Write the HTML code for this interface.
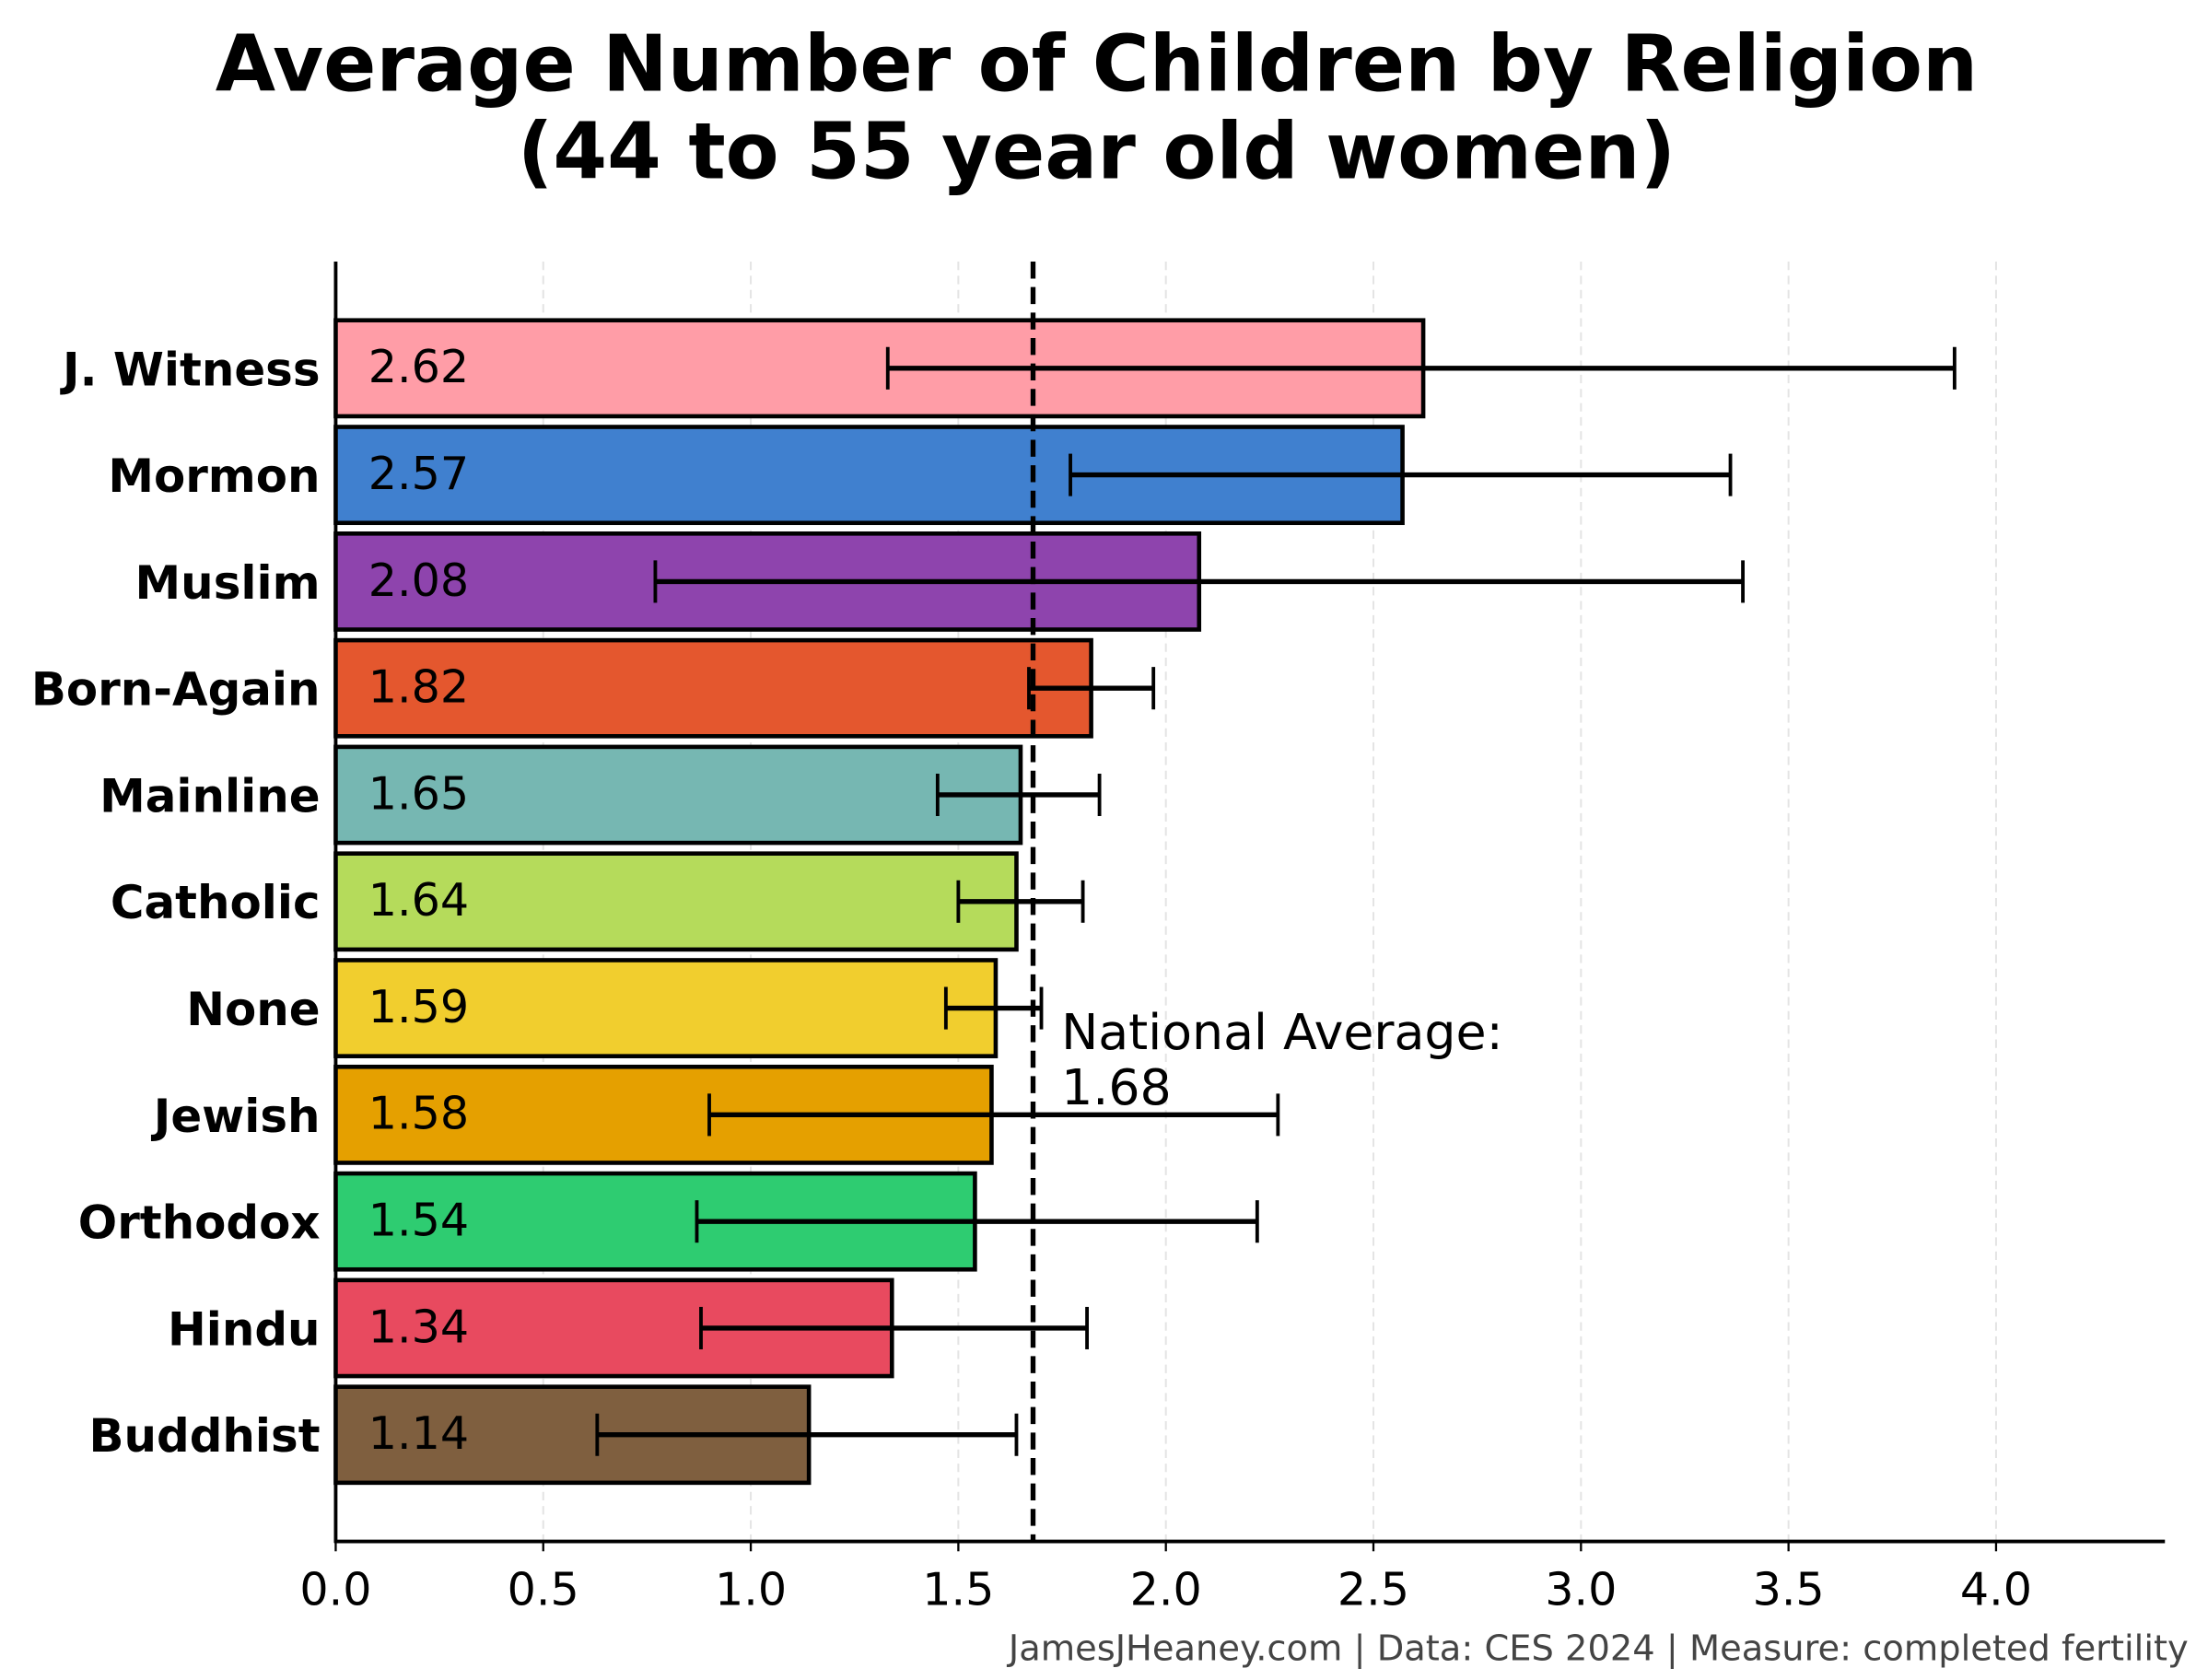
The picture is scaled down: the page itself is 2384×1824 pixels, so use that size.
<!DOCTYPE html>
<html><head><meta charset="utf-8"><style>
html,body{margin:0;padding:0;background:#fff;}
svg{display:block;font-family:"DejaVu Sans","Liberation Sans",sans-serif;}
</style></head><body>
<svg id="chart" width="2384" height="1824" viewBox="0 0 1552 1188" xmlns="http://www.w3.org/2000/svg">
<rect width="1552" height="1188" fill="#fff"/>
<text x="775" y="64" text-anchor="middle" font-size="55" font-weight="bold">Average Number of Children by Religion</text>
<text x="775" y="126" text-anchor="middle" font-size="55" font-weight="bold">(44 to 55 year old women)</text>
<g id="grid"></g>
<g id="bars"></g>
<g id="axes"></g>
<text x="750" y="742" font-size="35">National Average:</text>
<text x="750" y="781" font-size="35">1.68</text>
<text x="1547" y="1174" text-anchor="end" font-size="25" fill="#444">JamesJHeaney.com | Data: CES 2024 | Measure: completed fertility</text>
</svg>
<script>
const categories = ["J. Witness","Mormon","Muslim","Born-Again","Mainline","Catholic","None","Jewish","Orthodox","Hindu","Buddhist"];
const values = [2.62,2.57,2.08,1.82,1.65,1.64,1.59,1.58,1.54,1.34,1.14];
const errLow = [1.33,1.77,0.77,1.67,1.45,1.50,1.47,0.90,0.87,0.88,0.63];
const errHigh = [3.90,3.36,3.39,1.97,1.84,1.80,1.70,2.27,2.22,1.81,1.64];
const colors = ["#FF9DA7","#4080CF","#8E44AD","#E4572E","#76B7B2","#B5DB5B","#F1CE2E","#E5A000","#2ECC71","#E84A5F","#7F5F3F"];
const xTicks = [0,0.5,1.0,1.5,2.0,2.5,3.0,3.5,4.0];
const nationalAvg = [1.68];

const NS="http://www.w3.org/2000/svg";
const X0=237, XS=293.5, XMAX=4.4, YTOP=185, YBOT=1090;
const step=(YBOT-YTOP)/(categories.length+1);
const x=v=>X0+v*XS;
const y=i=>YTOP+(i+1)*step;
function mk(tag,attrs,parent){const e=document.createElementNS(NS,tag);for(const k in attrs)e.setAttribute(k,attrs[k]);parent.appendChild(e);return e;}
const grid=document.getElementById('grid'),bars=document.getElementById('bars'),axes=document.getElementById('axes');
xTicks.forEach(t=>{if(t===0)return;
 const g=mk('line',{x1:x(t),x2:x(t),y1:YTOP,y2:YBOT,stroke:'#e4e4e4','stroke-width':1.3,'stroke-dasharray':'6,4'},grid);
 
 
});
const bh=step*0.9;
categories.forEach((c,i)=>{
 const r=mk('rect',{x:x(0),y:y(i)-bh/2,width:x(values[i])-x(0),height:bh,fill:colors[i],stroke:'#000','stroke-width':3},bars);
 
 
 const v=mk('text',{x:260,y:y(i)+10,'font-size':32},bars);v.textContent=values[i].toFixed(2);
 
 
 const l=mk('text',{x:226,y:y(i)+12,'font-size':32.5,'font-weight':'bold','text-anchor':'end'},axes);l.textContent=c;
 
 
});
const al=mk('line',{x1:x(nationalAvg[0]),x2:x(nationalAvg[0]),y1:YTOP,y2:YBOT,stroke:'#000','stroke-width':3.5,'stroke-dasharray':'12,6'},bars);


categories.forEach((c,i)=>{
 const g=mk('g',{stroke:'#000','stroke-width':3.5},bars);
 
 
 mk('line',{x1:x(errLow[i]),x2:x(errHigh[i]),y1:y(i),y2:y(i)},g);
 mk('line',{x1:x(errLow[i]),x2:x(errLow[i]),y1:y(i)-15,y2:y(i)+15,'stroke-width':2.5},g);
 mk('line',{x1:x(errHigh[i]),x2:x(errHigh[i]),y1:y(i)-15,y2:y(i)+15,'stroke-width':2.5},g);
});
const ya=mk('line',{x1:X0,x2:X0,y1:YTOP,y2:YBOT+1,stroke:'#000','stroke-width':2.5},axes);


const xa=mk('line',{x1:X0-1,x2:x(XMAX)+2,y1:YBOT,y2:YBOT,stroke:'#000','stroke-width':2.5},axes);


xTicks.forEach(t=>{
 mk('line',{x1:x(t),x2:x(t),y1:YBOT,y2:YBOT+7,stroke:'#000','stroke-width':1.5},axes);
 const tl=mk('text',{x:x(t),y:YBOT+45,'font-size':32,'text-anchor':'middle'},axes);tl.textContent=t.toFixed(1);
 
 
});
</script>
</body></html>
